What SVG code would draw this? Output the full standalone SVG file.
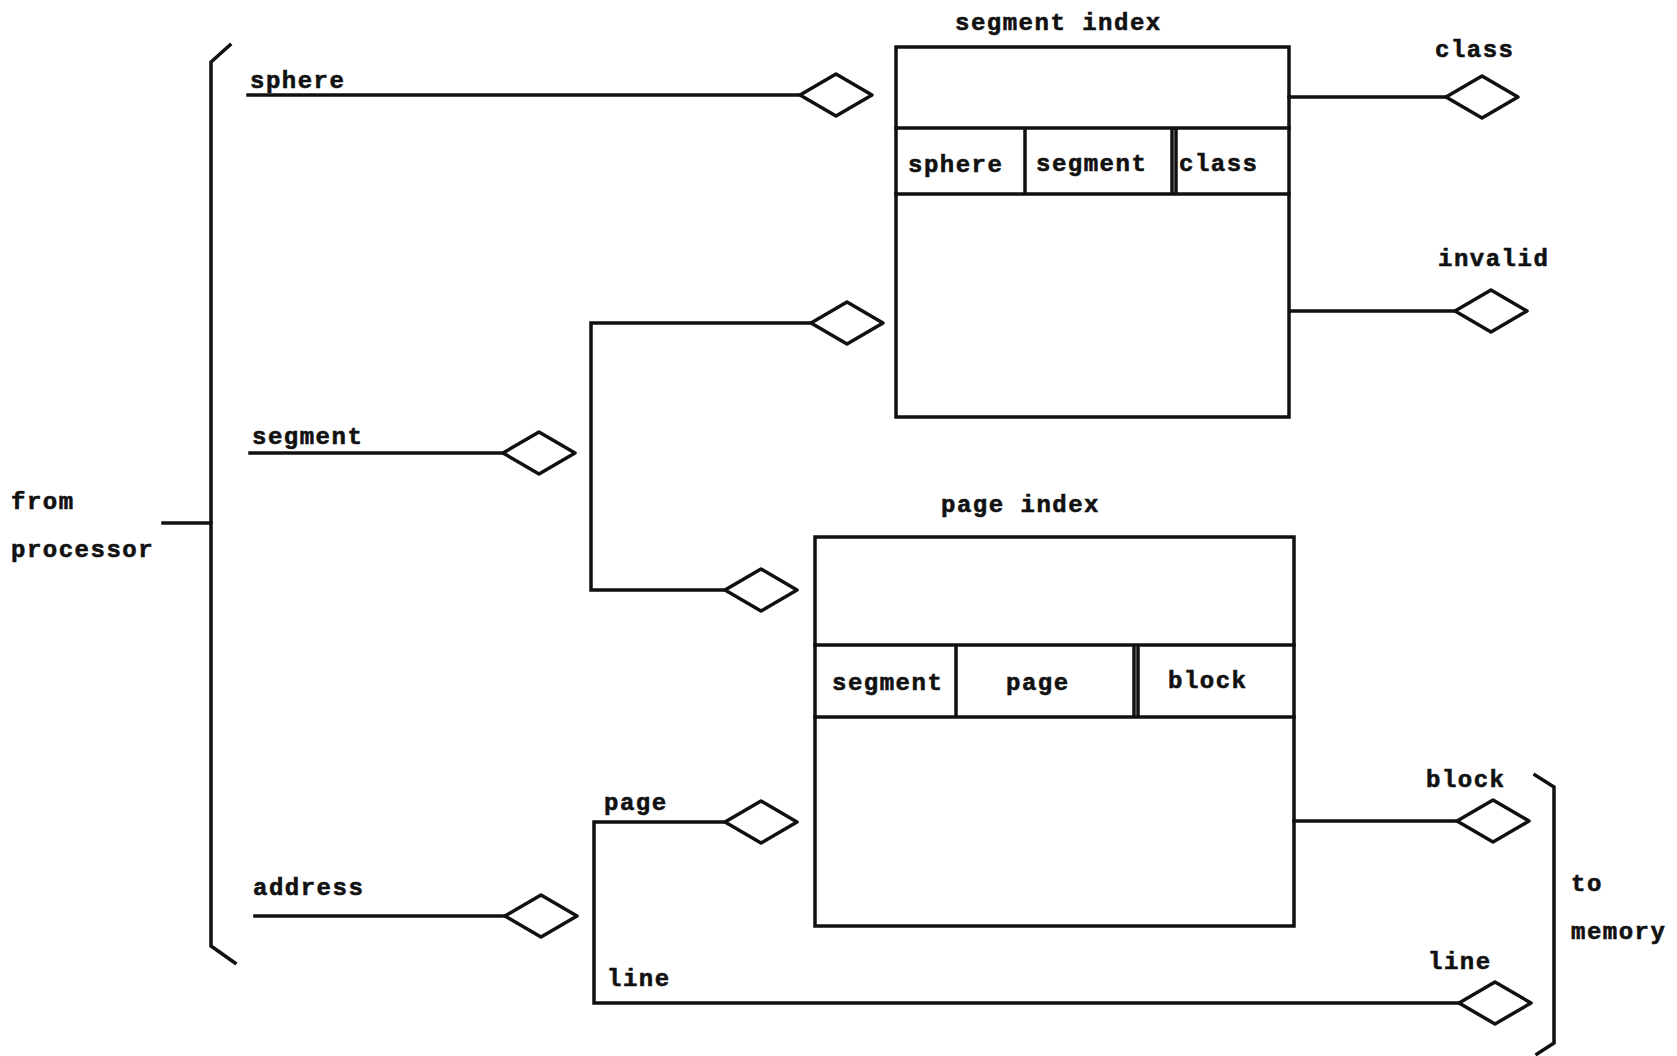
<svg xmlns="http://www.w3.org/2000/svg" width="1677" height="1056" viewBox="0 0 1677 1056">
<style>
text{font-family:"Liberation Mono","Courier New",monospace;font-weight:bold;font-size:24px;letter-spacing:1.5px;fill:#111;stroke:#111;stroke-width:0.6px}
.ln{stroke:#111;stroke-width:3.5;fill:none;stroke-linecap:square}
.dm{stroke:#111;stroke-width:3.5;fill:#fff;stroke-linejoin:round}
.bx{stroke:#111;stroke-width:3.5;fill:none}
</style>
<defs>
<polygon id="dia" points="0,0 36,-21 72,0 36,21" class="dm"/>
</defs>
<rect width="1677" height="1056" fill="#fff"/>

<g id="input-bracket">
<path class="ln" d="M230,45 L211,62 L211,946 L235,963"/>
<path class="ln" d="M163,523 L211,523"/>
<text x="11" y="509">from</text>
<text x="11" y="557">processor</text>
</g>

<g id="output-bracket">
<path class="ln" d="M1535,775 L1554,787 L1554,1043 L1537,1054"/>
<text x="1571" y="891">to</text>
<text x="1571" y="939">memory</text>
</g>

<g id="segment-index">
<text x="955" y="30">segment index</text>
<rect class="bx" x="896" y="47" width="393" height="370"/>
<path class="ln" d="M896,128 L1289,128 M896,194 L1289,194 M1025,128 L1025,194 M1172,128 L1172,194 M1176,128 L1176,194"/>
<text x="908" y="172">sphere</text>
<text x="1036" y="171">segment</text>
<text x="1179" y="171">class</text>
</g>

<g id="page-index">
<text x="941" y="512">page index</text>
<rect class="bx" x="815" y="537" width="479" height="389"/>
<path class="ln" d="M815,645 L1294,645 M815,717 L1294,717 M956,645 L956,717 M1134,645 L1134,717 M1138,645 L1138,717"/>
<text x="832" y="690">segment</text>
<text x="1006" y="690">page</text>
<text x="1168" y="688">block</text>
</g>

<g id="connectors">
<path class="ln" d="M248,95 L800,95"/>
<path class="ln" d="M250,453 L503,453"/>
<path class="ln" d="M811,323 L591,323 L591,590 L725,590"/>
<path class="ln" d="M255,916 L505,916"/>
<path class="ln" d="M725,822 L594,822 L594,1003 L1459,1003"/>
<path class="ln" d="M1289,97 L1446,97"/>
<path class="ln" d="M1291,311 L1455,311"/>
<path class="ln" d="M1294,821 L1457,821"/>
</g>

<g id="sphere-in">
<text x="250" y="88">sphere</text>
<use href="#dia" x="800" y="95"/>
</g>
<g id="segment-in">
<text x="252" y="444">segment</text>
<use href="#dia" x="503" y="453"/>
</g>
<g id="segment-to-segindex"><use href="#dia" x="811" y="323"/></g>
<g id="segment-to-pageindex"><use href="#dia" x="725" y="590"/></g>
<g id="address-in">
<text x="253" y="895">address</text>
<use href="#dia" x="505" y="916"/>
</g>
<g id="page-to-pageindex">
<text x="604" y="810">page</text>
<use href="#dia" x="725" y="822"/>
</g>
<g id="line-branch"><text x="607" y="986">line</text></g>
<g id="class-out">
<text x="1435" y="57">class</text>
<use href="#dia" x="1446" y="97"/>
</g>
<g id="invalid-out">
<text x="1438" y="266">invalid</text>
<use href="#dia" x="1455" y="311"/>
</g>
<g id="block-out">
<text x="1426" y="787">block</text>
<use href="#dia" x="1457" y="821"/>
</g>
<g id="line-out">
<text x="1428" y="969">line</text>
<use href="#dia" x="1459" y="1003"/>
</g>
</svg>
